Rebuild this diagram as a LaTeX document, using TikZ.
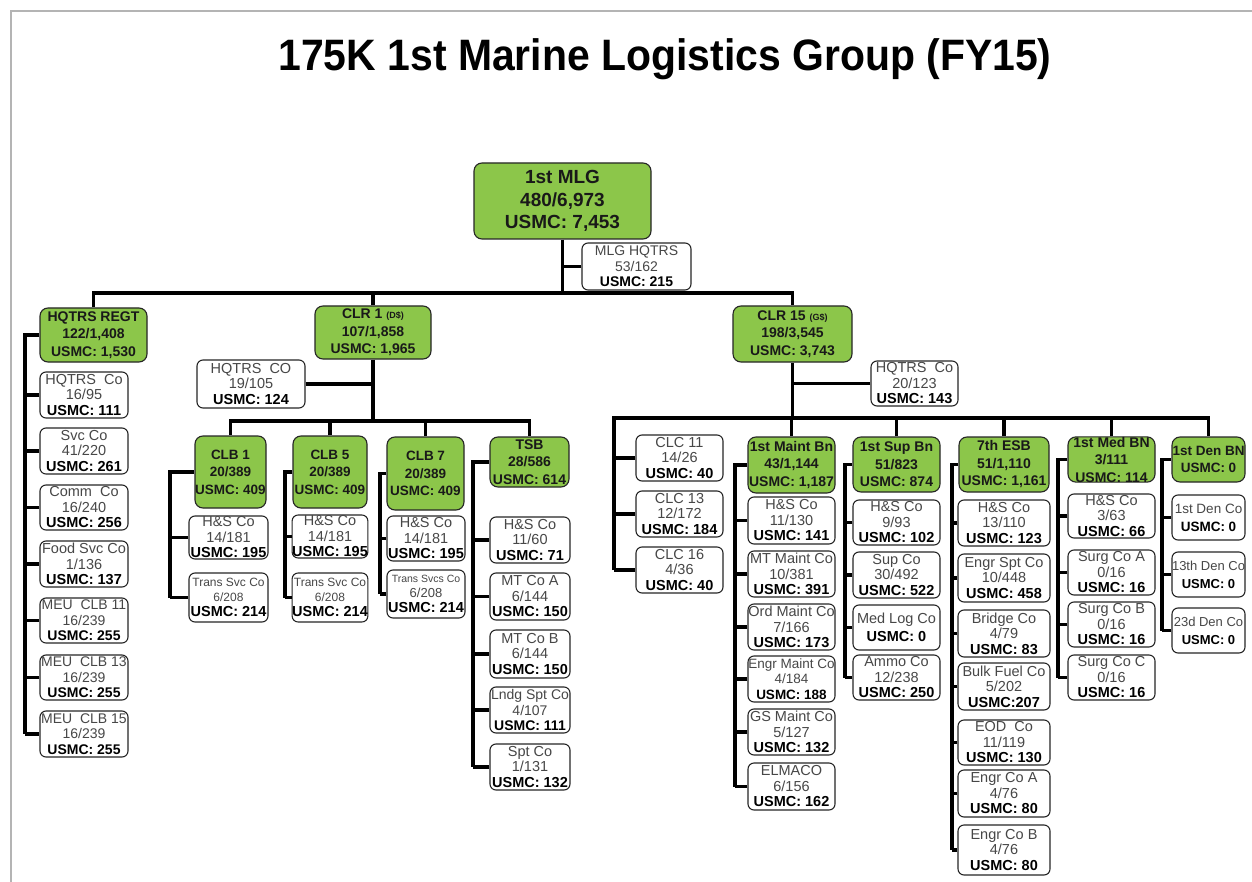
\documentclass[tikz,border=0pt]{standalone}
\usepackage{fontspec}
\setmainfont{Liberation Sans}
\usepackage{graphicx}
\definecolor{boxgreen}{HTML}{8CC64A}
\definecolor{framegray}{HTML}{B4B4B4}
\tikzset{
  conn/.style={line width=3.4pt, draw=black},
  wbox/.style={draw=black!85, line width=1.1pt, rounded corners=6pt, fill=white, inner sep=0pt, align=center, text=black!72, font=\fontsize{14.5}{15.5}\selectfont},
  gbox/.style={draw=black!85, line width=1.1pt, rounded corners=8pt, fill=boxgreen, inner sep=0pt, align=center, text=black!90, font=\fontsize{14}{17.5}\selectfont\bfseries},
  titletext/.style={anchor=base, font=\fontsize{44}{50}\selectfont\bfseries},
}
\newcommand{\WB}[7][]{\node[wbox,#1, minimum width={#5-#3}, minimum height={#6-#4}] (#2) at ({(#3+#5)/2},{(#4+#6)/2}) {#7};}
\newcommand{\GB}[7][]{\node[gbox,#1, minimum width={#5-#3}, minimum height={#6-#4}] (#2) at ({(#3+#5)/2},{(#4+#6)/2}) {#7};}
\newcommand{\usmc}[1]{{\bfseries\color{black}USMC: #1}}
\newcommand{\subtrunk}[4]{%
  \coordinate (#1-t) at (#2,0);
  \draw[conn] (#1.west) -| (#1-t |- #3.west);
  \foreach \c in {#4} {\draw[conn] (\c.west) -- (\c.west -| #1-t);}
}
\begin{document}
\begin{tikzpicture}[x=1pt,y=-1pt]
\path[use as bounding box, fill=white] (0,0) rectangle (1252,882);
\draw[framegray, line width=1.5pt] (11,882) -- (11,11) -- (1252,11);

\node[titletext] (title) at (665,71) {\scalebox{0.93}[1]{175K 1st Marine Logistics Group (FY15)}};

% top level
\GB[font=\fontsize{19}{22.5}\selectfont\bfseries]{mlg}{474}{163}{651}{239}{1st MLG\\480/6,973\\USMC: 7,453}
\WB[font=\fontsize{14}{15.5}\selectfont]{mlghq}{582}{243}{691}{290}{MLG HQTRS\\53/162\\\usmc{215}}
\GB{regt}{40}{308}{147}{362}{HQTRS REGT\\122/1,408\\USMC: 1,530}
\GB{clr1}{315}{306}{431}{359}{CLR 1 {\fontsize{9}{9}\selectfont (D\$)}\\107/1,858\\USMC: 1,965}
\GB{clr15}{733}{306}{852}{362}{CLR 15 {\fontsize{9}{9}\selectfont (G\$)}\\198/3,545\\USMC: 3,743}

% HQTRS REGT children
\WB{hqco}{40}{372}{128}{418}{HQTRS\ \ Co\\16/95\\\usmc{111}}
\WB{svc}{40}{428}{128}{474}{Svc Co\\41/220\\\usmc{261}}
\WB{comm}{40}{485}{128}{530}{Comm\ \ Co\\16/240\\\usmc{256}}
\WB{food}{40}{541}{128}{587}{Food Svc Co\\1/136\\\usmc{137}}
\WB[font=\fontsize{14}{15.5}\selectfont]{meua}{40}{598}{128}{643}{MEU\ \ CLB 11\\16/239\\\usmc{255}}
\WB[font=\fontsize{14}{15.5}\selectfont]{meub}{40}{655}{128}{700}{MEU\ \ CLB 13\\16/239\\\usmc{255}}
\WB[font=\fontsize{14}{15.5}\selectfont]{meuc}{40}{711}{128}{757}{MEU\ \ CLB 15\\16/239\\\usmc{255}}

% CLR 1
\WB{hqa}{197}{360}{305}{408}{HQTRS\ \ CO\\19/105\\\usmc{124}}
\GB[font=\fontsize{13.5}{17.5}\selectfont\bfseries]{clba}{195}{436}{266}{508}{CLB 1\\20/389\\USMC: 409}
\GB[font=\fontsize{13.5}{17.5}\selectfont\bfseries]{clbb}{293}{436}{367}{508}{CLB 5\\20/389\\USMC: 409}
\GB[font=\fontsize{13.5}{17.5}\selectfont\bfseries]{clbc}{387}{437}{464}{510}{CLB 7\\20/389\\USMC: 409}
\GB{tsb}{490}{437}{569}{487}{TSB\\28/586\\USMC: 614}

\WB{ahs}{189}{516}{268}{559}{H\&S Co\\14/181\\\usmc{195}}
\WB[font=\fontsize{12}{15}\selectfont]{ats}{189}{573}{268}{622}{Trans Svc Co\\6/208\\{\fontsize{14.5}{15}\selectfont\usmc{214}}}
\WB{bhs}{293}{515}{367}{558}{H\&S Co\\14/181\\\usmc{195}}
\WB[font=\fontsize{12}{15}\selectfont]{bts}{293}{573}{367}{622}{Trans Svc Co\\6/208\\{\fontsize{14.5}{15}\selectfont\usmc{214}}}
\WB{chs}{387}{516}{465}{561}{H\&S Co\\14/181\\\usmc{195}}
\WB[font=\fontsize{10.5}{15}\selectfont]{cts}{387}{570}{465}{618}{Trans Svcs Co\\{\fontsize{13}{15}\selectfont 6/208}\\{\fontsize{14.5}{15}\selectfont\usmc{214}}}

\WB{ths}{490}{517}{570}{563}{H\&S Co\\11/60\\\usmc{71}}
\WB{tma}{490}{573}{570}{620}{MT Co A\\6/144\\\usmc{150}}
\WB{tmb}{490}{630}{570}{678}{MT Co B\\6/144\\\usmc{150}}
\WB[font=\fontsize{14}{15.5}\selectfont]{tld}{490}{687}{570}{733}{Lndg Spt Co\\4/107\\\usmc{111}}
\WB{tsp}{490}{744}{570}{790}{Spt Co\\1/131\\\usmc{132}}

% CLR 15
\WB{hqb}{871}{361}{958}{406}{HQTRS\ \ Co\\20/123\\\usmc{143}}
\WB{clcA}{636}{435}{723}{481}{CLC 11\\14/26\\\usmc{40}}
\WB{clcB}{636}{491}{723}{537}{CLC 13\\12/172\\\usmc{184}}
\WB{clcC}{636}{547}{723}{593}{CLC 16\\4/36\\\usmc{40}}

\GB{maint}{748}{437}{835}{493}{1st Maint Bn\\43/1,144\\USMC: 1,187}
\WB{mhs}{748}{497}{835}{544}{H\&S Co\\11/130\\\usmc{141}}
\WB{mmt}{748}{551}{835}{597}{MT Maint Co\\10/381\\\usmc{391}}
\WB{mor}{748}{604}{835}{650}{Ord Maint Co\\7/166\\\usmc{173}}
\WB[font=\fontsize{13.5}{15.5}\selectfont]{men}{748}{656}{835}{702}{Engr Maint Co\\4/184\\\usmc{188}}
\WB{mgs}{748}{709}{835}{755}{GS Maint Co\\5/127\\\usmc{132}}
\WB{mel}{748}{763}{835}{810}{ELMACO\\6/156\\\usmc{162}}

\GB{sup}{853}{437}{940}{492}{1st Sup Bn\\51/823\\USMC: 874}
\WB{shs}{853}{500}{940}{545}{H\&S Co\\9/93\\\usmc{102}}
\WB{ssu}{853}{552}{940}{598}{Sup Co\\30/492\\\usmc{522}}
\WB[font=\fontsize{14.5}{18}\selectfont]{sml}{853}{605}{940}{650}{Med Log Co\\\usmc{0}}
\WB{sam}{853}{655}{940}{700}{Ammo Co\\12/238\\\usmc{250}}

\GB{esb}{959}{437}{1049}{492}{7th ESB\\51/1,110\\USMC: 1,161}
\WB{ehs}{958}{500}{1050}{546}{H\&S Co\\13/110\\\usmc{123}}
\WB{esp}{958}{554}{1050}{602}{Engr Spt Co\\10/448\\\usmc{458}}
\WB{ebr}{958}{610}{1050}{657}{Bridge Co\\4/79\\\usmc{83}}
\WB{ebf}{958}{663}{1050}{710}{Bulk Fuel Co\\5/202\\{\bfseries\color{black}USMC:207}}
\WB{eeo}{958}{720}{1050}{765}{EOD\ \ Co\\11/119\\\usmc{130}}
\WB{eca}{958}{770}{1050}{817}{Engr Co A\\4/76\\\usmc{80}}
\WB{ecb}{958}{825}{1050}{875}{Engr Co B\\4/76\\\usmc{80}}

\GB{med}{1068}{437}{1155}{482}{1st Med BN\\3/111\\USMC: 114}
\WB{dhs}{1068}{494}{1155}{538}{H\&S Co\\3/63\\\usmc{66}}
\WB{dsa}{1068}{550}{1155}{595}{Surg Co A\\0/16\\\usmc{16}}
\WB{dsb}{1068}{602}{1155}{647}{Surg Co B\\0/16\\\usmc{16}}
\WB{dsc}{1068}{655}{1155}{700}{Surg Co C\\0/16\\\usmc{16}}

\GB[font=\fontsize{13.5}{17.5}\selectfont\bfseries]{den}{1172}{437}{1245}{482}{1st Den BN\\USMC: 0}
\WB[font=\fontsize{13.5}{18}\selectfont]{nda}{1172}{495}{1245}{540}{1st Den Co\\\usmc{0}}
\WB[font=\fontsize{13}{18}\selectfont]{ndb}{1172}{552}{1245}{597}{13th Den Co\\\usmc{0}}
\WB[font=\fontsize{13}{18}\selectfont]{ndc}{1172}{608}{1245}{653}{23d Den Co\\\usmc{0}}

% connectors: top level
\coordinate (busL) at (93,293);
\draw[conn] (regt.north) -- (regt.north |- busL) -- (clr15.north |- busL) -- (clr15.north);
\draw[conn] (mlg.south) -- (mlg.south |- busL);
\draw[conn] (clr1.north) -- (clr1.north |- busL);
\draw[conn] (mlghq.west) -- (mlg.south |- mlghq.west);

% HQTRS REGT
\subtrunk{regt}{25}{meuc}{hqco,svc,comm,food,meua,meub,meuc}

% CLR 1
\coordinate (busA) at (230,421);
\draw[conn] (clr1.south) -- (clr1.south |- busA);
\draw[conn] (hqa.east) -- (clr1.south |- hqa.east);
\draw[conn] (clba.north) -- (clba.north |- busA) -- (tsb.north |- busA) -- (tsb.north);
\draw[conn] (clbb.north) -- (clbb.north |- busA);
\draw[conn] (clbc.north) -- (clbc.north |- busA);
\subtrunk{clba}{170}{ats}{ahs,ats}
\subtrunk{clbb}{285}{bts}{bhs,bts}
\subtrunk{clbc}{380}{cts}{chs,cts}
\subtrunk{tsb}{473}{tsp}{ths,tma,tmb,tld,tsp}

% CLR 15
\coordinate (busB) at (614,418);
\draw[conn] (clr15.south) -- (clr15.south |- busB);
\draw[conn] (hqb.west) -- (clr15.south |- hqb.west);
\draw[conn] (clcC.west -| busB) -- (busB) -- (den.north |- busB) -- (den.north);
\foreach \c in {clcA,clcB,clcC} {\draw[conn] (\c.west) -- (\c.west -| busB);}
\foreach \c in {maint,sup,esb,med} {\draw[conn] (\c.north) -- (\c.north |- busB);}
\subtrunk{maint}{735}{mel}{mhs,mmt,mor,men,mgs,mel}
\subtrunk{sup}{845}{sam}{shs,ssu,sml,sam}
\subtrunk{esb}{952}{ecb}{ehs,esp,ebr,ebf,eeo,eca,ecb}
\subtrunk{med}{1058}{dsc}{dhs,dsa,dsb,dsc}
\subtrunk{den}{1162}{ndc}{nda,ndb,ndc}
\end{tikzpicture}
\end{document}
